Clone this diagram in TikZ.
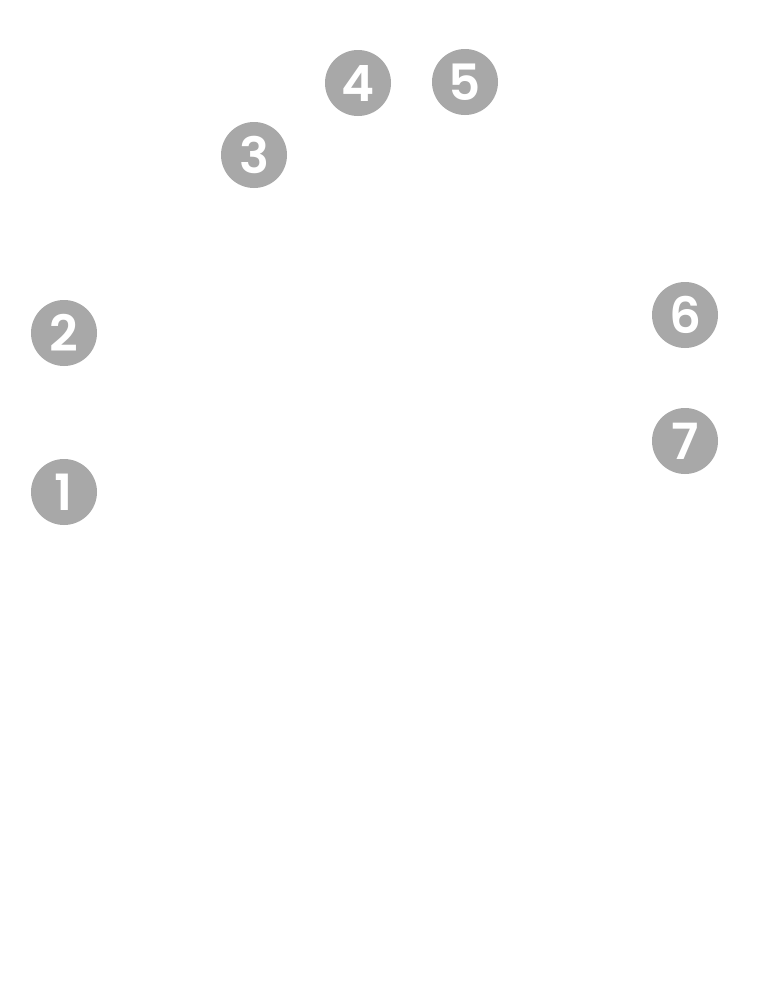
\documentclass[tikz,border=0pt]{standalone}
\usepackage{fontspec}
\setmainfont{Poppins}[UprightFont=* SemiBold, BoldFont=* Bold]
\definecolor{dotgray}{HTML}{A8A8A8}
\begin{document}
\begin{tikzpicture}[x=1pt,y=-1pt,
  numdot/.style={circle,fill=dotgray,minimum size=66pt,inner sep=0pt,text=white,font=\fontsize{50}{50}\selectfont}]
\useasboundingbox[fill=white] (0,0) rectangle (768,1004);
\node[numdot] (n1) at (64,492) {1};
\node[numdot] (n2) at (64,333) {2};
\node[numdot] (n3) at (254,155) {3};
\node[numdot] (n4) at (358,83) {4};
\node[numdot] (n5) at (465,82) {5};
\node[numdot] (n6) at (685,315) {6};
\node[numdot] (n7) at (685,441) {7};
\end{tikzpicture}
\end{document}
